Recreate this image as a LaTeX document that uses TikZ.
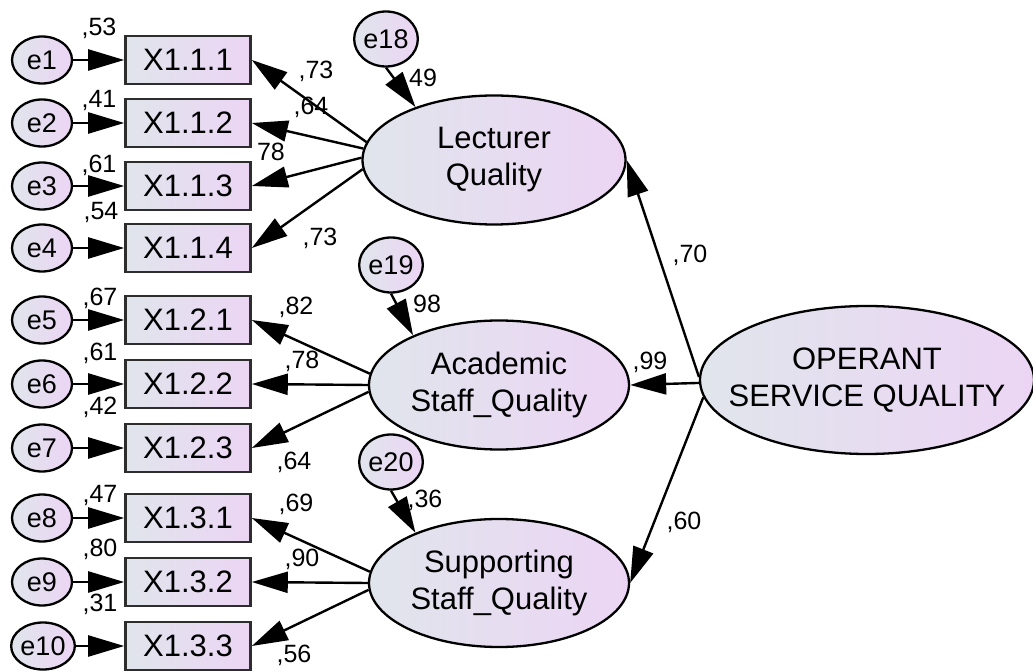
\documentclass[tikz,border=0pt]{standalone}
\usepackage{fontspec}
\setmainfont{Liberation Sans}
\usetikzlibrary{arrows.meta,shapes.geometric}
\definecolor{lcol}{RGB}{224,229,236}
\definecolor{rcol}{RGB}{236,213,244}
\definecolor{boxline}{RGB}{45,45,45}
\tikzset{
 obs/.style={rectangle, draw=boxline, line width=2.6pt, minimum width=125pt, minimum height=48pt, inner sep=0pt, left color=lcol, right color=rcol, font=\fontsize{31}{33}\selectfont},
 err/.style={ellipse, draw=black, line width=2.3pt, minimum width=60pt, minimum height=47pt, inner sep=0pt, left color=lcol, right color=rcol, font=\fontsize{27}{29}\selectfont},
 dist/.style={err, minimum width=61pt, minimum height=55pt},
 lat/.style={ellipse, draw=black, line width=2.3pt, inner sep=0pt, left color=lcol, right color=rcol, label={[align=center, font=\fontsize{31}{37}\selectfont]center:#1}},
 coef/.style={inner sep=0pt, font=\fontsize{25}{27}\selectfont},
 arr/.style={line width=2.4pt, -{Triangle[length=36pt,width=21pt]}},
}
\begin{document}
\begin{tikzpicture}[x=1pt,y=1pt]
\useasboundingbox (0,0) rectangle (1033,670);
% error terms
\node[err] (e1) at (42,610) {e1};
\node[err] (e2) at (42,547) {e2};
\node[err] (e3) at (42,484) {e3};
\node[err] (e4) at (42,422) {e4};
\node[err] (e5) at (42,350) {e5};
\node[err] (e6) at (42,286) {e6};
\node[err] (e7) at (42,222) {e7};
\node[err] (e8) at (42,152) {e8};
\node[err] (e9) at (42,88) {e9};
\node[err] (e10) at (43,24) {e10};
% observed
\node[obs] (x111) at (188,610) {X1.1.1};
\node[obs] (x112) at (188,547) {X1.1.2};
\node[obs] (x113) at (188,484) {X1.1.3};
\node[obs] (x114) at (188,422) {X1.1.4};
\node[obs] (x121) at (188,350) {X1.2.1};
\node[obs] (x122) at (188,286) {X1.2.2};
\node[obs] (x123) at (188,222) {X1.2.3};
\node[obs] (x131) at (188,152) {X1.3.1};
\node[obs] (x132) at (188,88) {X1.3.2};
\node[obs] (x133) at (188,24) {X1.3.3};
% latents
\node[lat={Lecturer\\Quality}, minimum width=263pt, minimum height=129pt] (lec) at (494,510) {};
\node[lat={Academic\\Staff\_Quality}, minimum width=260pt, minimum height=129pt] (aca) at (499,285) {};
\node[lat={Supporting\\Staff\_Quality}, minimum width=260pt, minimum height=128pt] (sup) at (499,87) {};
\node[lat={OPERANT\\SERVICE QUALITY}, minimum width=334pt, minimum height=148pt] (osq) at (867,290) {};
% disturbances
\node[dist] (e18) at (386,631) {e18};
\node[dist] (e19) at (391,405) {e19};
\node[dist] (e20) at (391,208) {e20};
% error arrows
\foreach \e/\x in {e1/x111,e2/x112,e3/x113,e4/x114,e5/x121,e6/x122,e7/x123,e8/x131,e9/x132,e10/x133}
  \draw[arr] (\e.east) -- (\x.west);
% loadings
\draw[arr] (lec.172) -- (x111.east);
\draw[arr] (lec.175) -- (x112.east);
\draw[arr] (lec.179) -- (x113.east);
\draw[arr] (lec.184) -- (x114.east);
\draw[arr] (aca.175) -- (x121.east);
\draw[arr] (aca.180) -- (x122.east);
\draw[arr] (aca.183) -- (x123.east);
\draw[arr] (sup.175) -- (x131.east);
\draw[arr] (sup.180) -- (x132.east);
\draw[arr] (sup.183) -- (x133.east);
% structural
\draw[arr] (osq.179) -- (lec.east);
\draw[arr] (osq.181) -- (aca.east);
\draw[arr] (osq.186) -- (sup.east);
% disturbance arrows
\draw[arr] (e18.south) -- (lec.146);
\draw[arr] (e19.south) -- (aca.150);
\draw[arr] (e20.south) -- (sup.149);
% coefficients
\node[coef] (c1) at (99,642) {,53};
\node[coef] (c2) at (99,569) {,41};
\node[coef] (c3) at (99,505) {,61};
\node[coef] (c4) at (101,457) {,54};
\node[coef] (c5) at (100,372) {,67};
\node[coef] (c6) at (100,317) {,61};
\node[coef] (c7) at (100,263) {,42};
\node[coef] (c8) at (100,175) {,47};
\node[coef] (c9) at (100,121) {,80};
\node[coef] (c10) at (100,66) {,31};
\node[coef] (l1) at (316,599) {,73};
\node[coef] (l2) at (311,563) {,64};
\node[coef] (l3) at (271,518) {78};
\node[coef] (l4) at (320,432) {,73};
\node[coef] (l5) at (296,363) {,82};
\node[coef] (l6) at (302,309) {,78};
\node[coef] (l7) at (294,208) {,64};
\node[coef] (l8) at (296,166) {,69};
\node[coef] (l9) at (302,111) {,90};
\node[coef] (l10) at (294,15) {,56};
\node[coef] (r1) at (423,592) {49};
\node[coef] (r2) at (427,366) {98};
\node[coef] (r3) at (425,170) {,36};
\node[coef] (s1) at (690,415) {,70};
\node[coef] (s2) at (650,308) {,99};
\node[coef] (s3) at (684,148) {,60};
\end{tikzpicture}
\end{document}
